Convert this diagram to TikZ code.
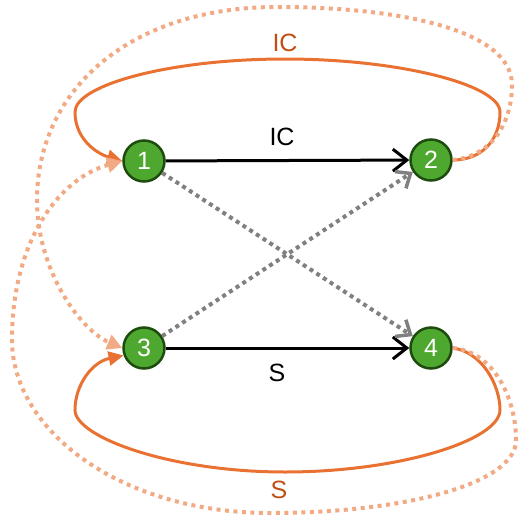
\documentclass[tikz,border=0pt]{standalone}
\usepackage{fontspec}
\setmainfont{Liberation Sans}
\usetikzlibrary{arrows.meta}

\definecolor{vtxgreen}{RGB}{78,167,46}
\definecolor{vtxedge}{RGB}{30,75,15}
\definecolor{orng}{RGB}{233,113,50}
\definecolor{lightorng}{RGB}{242,170,132}
\definecolor{darkorng}{RGB}{192,79,21}
\definecolor{crossgray}{RGB}{128,128,128}

\tikzset{
  vtx/.style={circle,draw=vtxedge,fill=vtxgreen,line width=2.5pt,minimum size=41pt,
    inner sep=0pt,text=white,font=\fontsize{25}{30}\selectfont},
  lbl/.style={font=\fontsize{25}{30}\selectfont},
  flow/.style={line width=3pt,-{Straight Barb[length=14pt,width=22pt,line width=3pt]}},
  cross/.style={crossgray,line width=4pt,dash pattern=on 4pt off 4pt,
    -{Straight Barb[length=12pt,width=20pt,line width=3.5pt]}},
  loopc/.style={orng,line width=3pt,-{Triangle[length=15pt,width=14pt]}},
  loopd/.style={lightorng,line width=4pt,dash pattern=on 4pt off 4.5pt,
    -{Triangle[length=15pt,width=15pt]}},
}

\begin{document}
\begin{tikzpicture}[x=1pt,y=-1pt]
\useasboundingbox (0,0) rectangle (518,523);

\node[vtx] (n1) at (144,161) {1};
\node[vtx] (n2) at (431,160) {2};
\node[vtx] (n3) at (144,348) {3};
\node[vtx] (n4) at (431,348) {4};

% direct edges
\draw[flow] (n1) -- (n2);
\draw[flow] (n3) -- (n4);
\node[lbl] (lblIC) at (282,137) {IC};
\node[lbl] (lblS) at (277,373) {S};

% crossing edges
\draw[cross] (n1) -- (n4);
\draw[cross] (n3) -- (n2);

% solid loops
\draw[loopc] (n2.east) .. controls (482,160) and (500,140) .. (500,112)
  .. controls (500,85) and (400,59) .. (285,59)
  .. controls (170,59) and (75,85) .. (75,112)
  .. controls (75,140) and (98,154) .. (n1.west);
\draw[loopc] (n4.east) .. controls (482,352) and (500,385) .. (500,410)
  .. controls (500,440) and (400,472) .. (285,472)
  .. controls (170,472) and (75,437) .. (75,410)
  .. controls (75,385) and (92,362) .. (n3.200);
\node[lbl,text=darkorng] (lblICtop) at (285,43) {IC};
\node[lbl,text=darkorng] (lblSbot) at (279,490) {S};

% dotted loops
\draw[loopd] (n2.east) .. controls (494,156) and (512,120) .. (512,85)
  .. controls (512,30) and (400,7) .. (277,7)
  .. controls (130,7) and (37,90) .. (37,200)
  .. controls (37,270) and (80,330) .. (n3.west);
\draw[loopd] (n4.east) .. controls (495,352) and (516,400) .. (516,440)
  .. controls (516,485) and (400,513) .. (270,513)
  .. controls (120,513) and (12,430) .. (12,340)
  .. controls (12,240) and (60,178) .. (n1.west);
\end{tikzpicture}
\end{document}
